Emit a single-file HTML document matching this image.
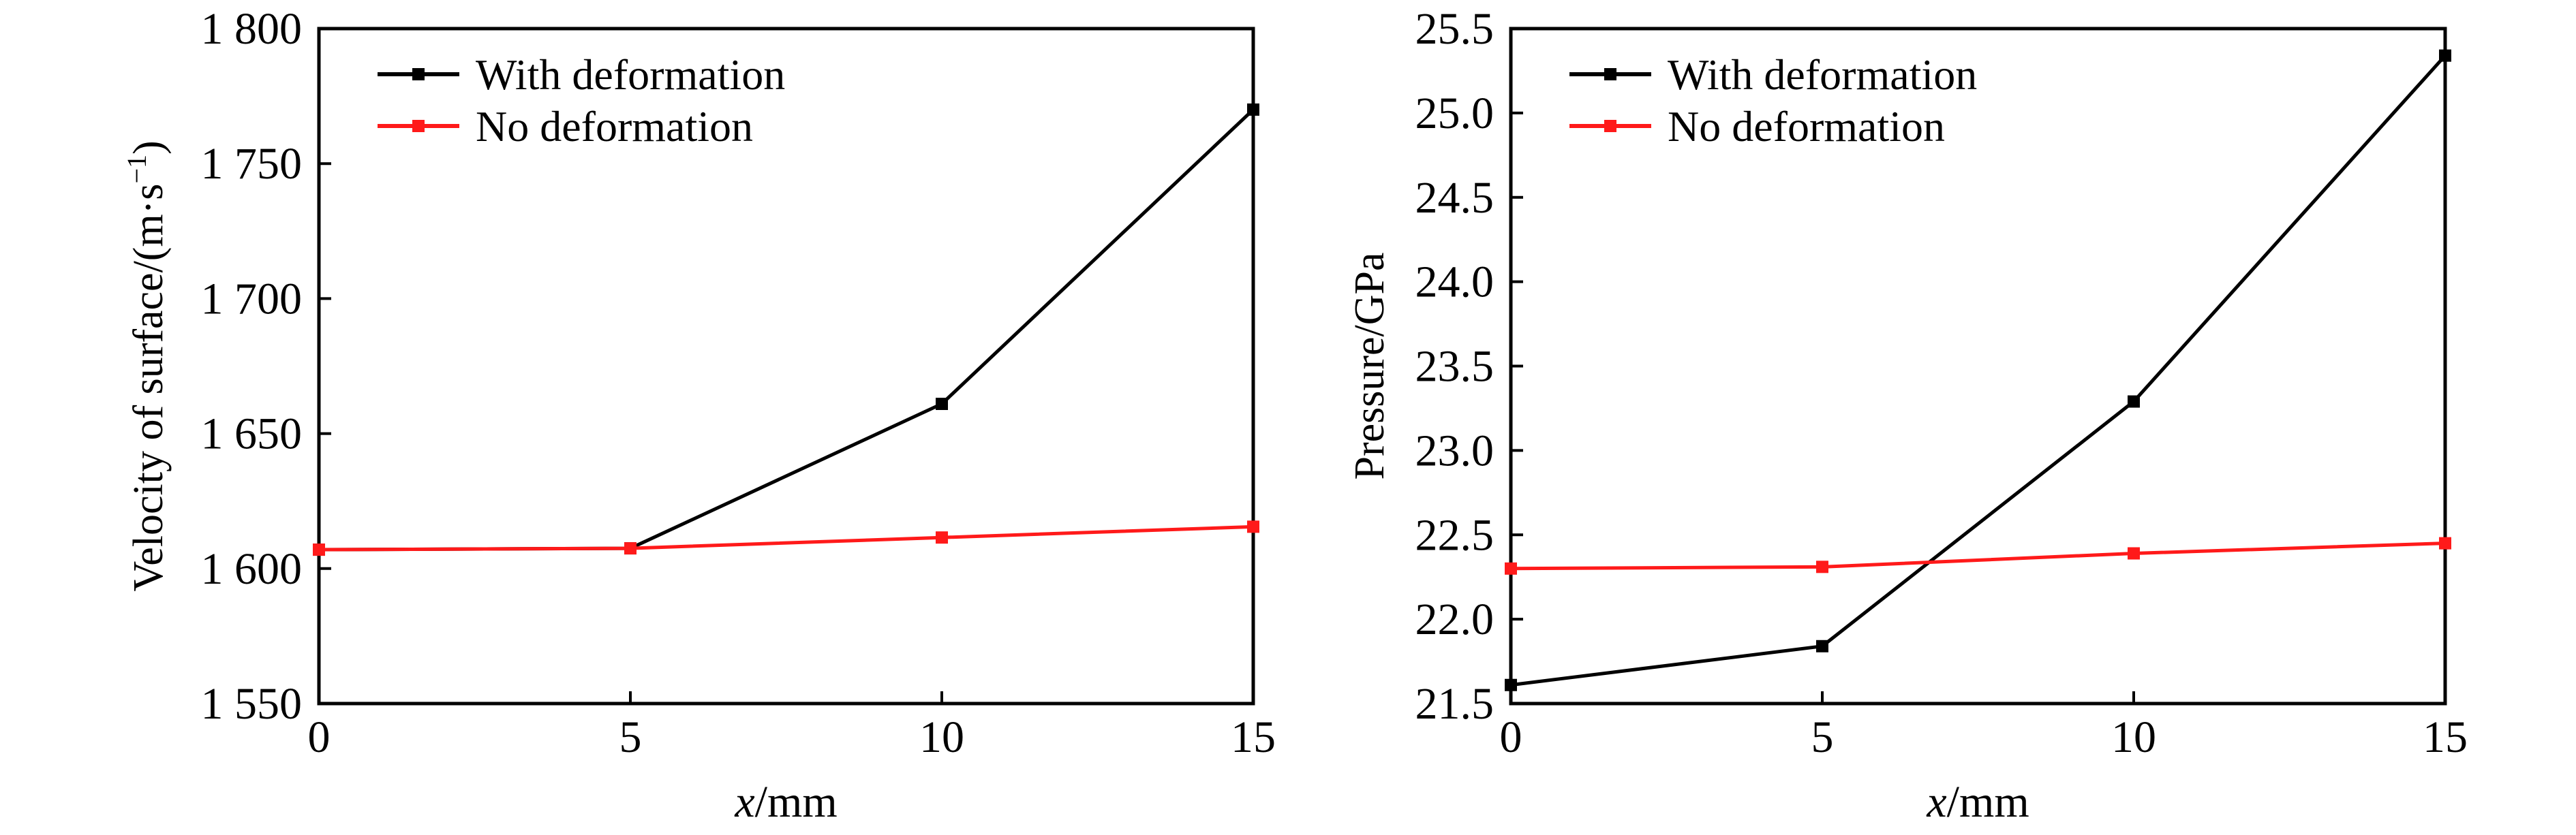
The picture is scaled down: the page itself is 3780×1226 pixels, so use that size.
<!DOCTYPE html>
<html><head><meta charset="utf-8"><style>
html,body{margin:0;padding:0;background:#fff;}
svg{display:block;font-family:"Liberation Serif",serif;}
</style></head><body>
<svg id="c" width="3780" height="1226" viewBox="0 0 3780 1226" xmlns="http://www.w3.org/2000/svg"></svg>
<script>
const xCats = [0, 5, 10, 15];
const xTickLabels = ["0", "5", "10", "15"];
const velWith = [1607, 1607.5, 1661, 1770];
const velNo = [1607, 1607.5, 1611.5, 1615.5];
const velTicks = [1550, 1600, 1650, 1700, 1750, 1800];
const velTickLabels = ["1 550", "1 600", "1 650", "1 700", "1 750", "1 800"];
const presWith = [21.61, 21.84, 23.29, 25.34];
const presNo = [22.30, 22.31, 22.39, 22.45];
const presTicks = [21.5, 22.0, 22.5, 23.0, 23.5, 24.0, 24.5, 25.0, 25.5];
const presTickLabels = ["21.5", "22.0", "22.5", "23.0", "23.5", "24.0", "24.5", "25.0", "25.5"];

const NS = "http://www.w3.org/2000/svg";
const svg = document.getElementById('c');
function mk(tag, attrs, parent, text) {
  const e = document.createElementNS(NS, tag);
  for (const k in attrs) e.setAttribute(k, attrs[k]);
  if (text !== undefined) e.textContent = text;
  (parent || svg).appendChild(e);
  return e;
}

function panel(opt) {
  const g = mk('g', {});
  
  
  const L = opt.left, R = opt.left + 1371, T = 42, B = 1033;
  const xs = v => L + (v - 0) / 15 * (R - L);
  const ys = v => B - (v - opt.ymin) / (opt.ymax - opt.ymin) * (B - T);

  const frame = mk('rect', {x: L, y: T, width: R - L, height: B - T, fill: 'none', stroke: '#000', 'stroke-width': 5}, g);
  
  

  xCats.forEach((v, i) => {
    const t = mk('line', {x1: xs(v), x2: xs(v), y1: B, y2: B - 18, stroke: '#000', 'stroke-width': 4}, g);
    
    
    const lb = mk('text', {x: xs(v), y: 1104, 'text-anchor': 'middle', 'font-size': 66}, g, xTickLabels[i]);
    
    
  });
  opt.ticks.forEach((v, i) => {
    const t = mk('line', {x1: L, x2: L + 18, y1: ys(v), y2: ys(v), stroke: '#000', 'stroke-width': 4}, g);
    
    
    const lb = mk('text', {x: L - 25, y: ys(v) + 22, 'text-anchor': 'end', 'font-size': 66}, g, opt.tickLabels[i]);
    
    
  });

  const xt = mk('text', {x: (L + R) / 2, y: 1199, 'text-anchor': 'middle', 'font-size': 66}, g);
  
  
  mk('tspan', {'font-style': 'italic'}, xt, 'x');
  mk('tspan', {}, xt, '/mm');

  const yt = mk('text', {x: 0, y: 0, 'text-anchor': 'middle', 'font-size': 62, transform: `translate(${opt.ytX},${(T + B) / 2}) rotate(-90)`}, g);
  
  
  if (opt.sup) {
    mk('tspan', {}, yt, opt.ytitle);
    mk('tspan', {dy: -24, 'font-size': 40}, yt, '−1');
    mk('tspan', {dy: 24}, yt, ')');
  } else {
    yt.textContent = opt.ytitle;
  }

  const series = [
    {vals: opt.withVals, color: '#000', name: 'series-with-deformation'},
    {vals: opt.noVals, color: '#ff1a1a', name: 'series-no-deformation'}
  ];
  series.forEach(s => {
    const pts = s.vals.map((v, i) => xs(xCats[i]) + ',' + ys(v)).join(' ');
    const pl = mk('polyline', {points: pts, fill: 'none', stroke: s.color, 'stroke-width': 5, 'stroke-linejoin': 'round'}, g);
    
    
    s.vals.forEach((v, i) => {
      const m = mk('rect', {x: xs(xCats[i]) - 9, y: ys(v) - 9, width: 18, height: 18, fill: s.color}, g);
      
      
    });
  });

  const legends = [
    {label: 'With deformation', color: '#000', y: 109},
    {label: 'No deformation', color: '#ff1a1a', y: 185}
  ];
  legends.forEach(lg => {
    const lgG = mk('g', {}, g);
    
    
    mk('line', {x1: L + 86, x2: L + 206, y1: lg.y, y2: lg.y, stroke: lg.color, 'stroke-width': 6}, lgG);
    mk('rect', {x: L + 146 - 9, y: lg.y - 9, width: 18, height: 18, fill: lg.color}, lgG);
    mk('text', {x: L + 230, y: lg.y + 22, 'font-size': 64}, lgG, lg.label);
  });
}

panel({name: 'velocity-chart', left: 468, ymin: 1550, ymax: 1800, ticks: velTicks, tickLabels: velTickLabels,
  withVals: velWith, noVals: velNo, ytitle: 'Velocity of surface/(m·s', sup: true, ytX: 238});
panel({name: 'pressure-chart', left: 2217, ymin: 21.5, ymax: 25.5, ticks: presTicks, tickLabels: presTickLabels,
  withVals: presWith, noVals: presNo, ytitle: 'Pressure/GPa', sup: false, ytX: 2030});
</script>
</body></html>
